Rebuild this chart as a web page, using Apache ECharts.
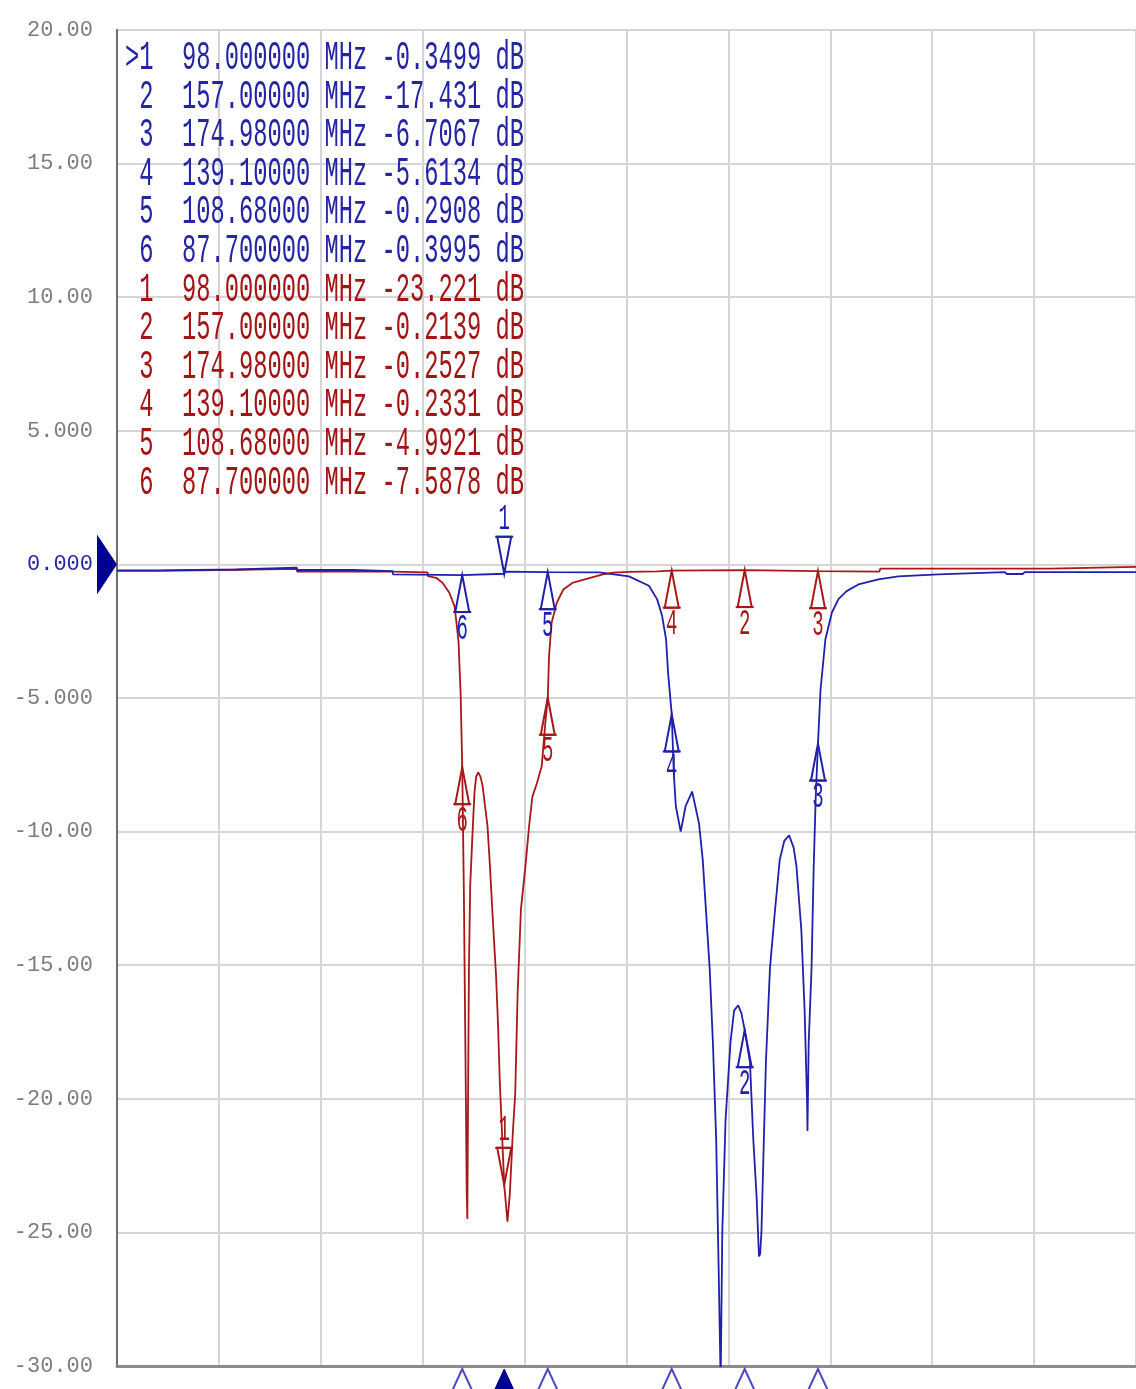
<!DOCTYPE html>
<html>
<head>
<meta charset="utf-8">
<script src="https://cdn.jsdelivr.net/npm/echarts@6/dist/echarts.min.js"></script>
<style>
html,body{margin:0;padding:0;background:#ffffff;}
#c{width:1136px;height:1389px;}
</style>
</head>
<body>
<div id="c"></div>
<script>
// ---------------- data ----------------
const xMin = 3, xMax = 253;            // MHz (start / stop)
const yMin = -30, yMax = 20, yStep = 5; // dB
const refLevel = 0;
const yTickValues = [20, 15, 10, 5, 0, -5, -10, -15, -20, -25, -30];
const yTickLabels = ['20.00', '15.00', '10.00', '5.000', '0.000', '-5.000', '-10.00', '-15.00', '-20.00', '-25.00', '-30.00'];

// Trace 1 (blue)
const s21Freq = [3, 12.8, 12.9, 32.4, 32.5, 47.1, 47.2, 60.8, 60.9, 70.6, 70.7, 87.7, 98.0, 98.3, 108.68, 121.3, 128.6, 133.5, 135.5, 136.7, 137.7, 138.2, 139.1, 139.6, 140.1, 141.3, 142.5, 144.1, 145.8, 146.7, 148.4, 149.2, 150.0, 150.6, 151.1, 151.5, 152.3, 153.5, 154.4, 155.4, 156.2, 157.0, 158.3, 159.1, 159.9, 160.5, 160.8, 161.1, 162.2, 163.2, 164.4, 165.6, 166.7, 167.9, 169.0, 169.7, 170.9, 171.7, 172.3, 172.4, 172.7, 173.4, 173.9, 174.4, 174.98, 175.6, 176.8, 178.4, 180.0, 182.0, 184.9, 189.8, 194.7, 204.5, 220.8, 221.3, 225.2, 225.7, 253];
const s21Db = [-0.22, -0.22, -0.19, -0.19, -0.12, -0.12, -0.21, -0.21, -0.25, -0.25, -0.37, -0.3995, -0.3499, -0.27, -0.2908, -0.30, -0.45, -0.8, -1.3, -1.9, -2.8, -4.05, -5.6134, -7.8, -9.05, -10.0, -9.05, -8.5, -9.7, -11.05, -15.1, -17.9, -21.5, -26.3, -30.6, -25.0, -20.8, -17.9, -16.7, -16.5, -16.8, -17.431, -18.65, -21.5, -23.6, -25.9, -25.8, -25.0, -18.65, -15.1, -13.0, -11.05, -10.35, -10.14, -10.6, -11.3, -13.7, -16.7, -20.1, -21.2, -17.9, -15.1, -11.5, -8.8, -6.7067, -4.7, -2.8, -1.8, -1.3, -1.0, -0.75, -0.56, -0.45, -0.37, -0.29, -0.36, -0.36, -0.29, -0.29];

// Trace 2 (red)
const s11Freq = [3, 12.8, 12.9, 32.4, 32.5, 47.1, 47.2, 70.6, 70.7, 79.2, 79.3, 81.3, 82.8, 84.5, 85.8, 86.3, 86.8, 87.0, 87.3, 87.7, 88.1, 88.5, 88.8, 88.95, 89.1, 89.35, 89.65, 90.15, 90.7, 91.1, 91.6, 92.2, 92.7, 93.9, 94.5, 95.3, 96.0, 96.5, 96.9, 98.0, 98.8, 99.4, 100.1, 100.7, 101.3, 102.1, 103.2, 104.1, 104.9, 106.0, 107.2, 108.1, 108.68, 109.0, 109.6, 110.9, 112.5, 114.9, 119.1, 122.2, 124.7, 128.6, 135.6, 135.8, 139.1, 157.0, 174.98, 175.3, 190.0, 190.3, 232.0, 232.3, 253];
const s11Db = [-0.24, -0.24, -0.2, -0.2, -0.17, -0.17, -0.27, -0.27, -0.3, -0.3, -0.44, -0.5, -0.68, -1.05, -1.56, -2.2, -2.9, -3.7, -4.8, -7.5878, -12.3, -18.5, -23.5, -24.5, -20.7, -15.05, -12.05, -10.3, -8.55, -7.95, -7.78, -7.95, -8.3, -9.8, -11.3, -13.55, -15.4, -17.3, -19.3, -23.221, -24.6, -23.5, -21.3, -19.8, -16.0, -12.9, -11.3, -9.8, -8.7, -8.2, -7.55, -5.9, -4.9921, -3.43, -2.2, -1.43, -0.94, -0.68, -0.5, -0.37, -0.31, -0.28, -0.26, -0.22, -0.2331, -0.2139, -0.2527, -0.27, -0.27, -0.16, -0.16, -0.09, -0.09];

// Markers
const markerNum  = [1, 2, 3, 4, 5, 6];
const markerFreq = [98.0, 157.0, 174.98, 139.1, 108.68, 87.7];
const s21MarkerDb = [-0.3499, -17.431, -6.7067, -5.6134, -0.2908, -0.3995];
const s11MarkerDb = [-23.221, -0.2139, -0.2527, -0.2331, -4.9921, -7.5878];
const activeMarker = 1;

// ---------------- styles ----------------
const BLUE = '#2020ac';
const RED = '#a81818';
const TXT_BLUE = '#2424a4';
const TXT_RED = '#a41414';
const GRID = '#d6d6d6';
const MONO = '"Liberation Mono", "DejaVu Sans Mono", monospace';

const zip = (a, b) => a.map((v, i) => [v, b[i]]);

function fmtF(f) { return f.toPrecision(8); }
function fmtV(v) { return Math.abs(v) >= 10 ? v.toFixed(3) : v.toFixed(4); }

const tableLines = [];
markerNum.forEach((n, i) => tableLines.push({
  text: (n === activeMarker ? '>' : ' ') + n + '  ' + fmtF(markerFreq[i]) + ' MHz ' + fmtV(s21MarkerDb[i]) + ' dB',
  color: TXT_BLUE
}));
markerNum.forEach((n, i) => tableLines.push({
  text: ' ' + n + '  ' + fmtF(markerFreq[i]) + ' MHz ' + fmtV(s11MarkerDb[i]) + ' dB',
  color: TXT_RED
}));

function markerRender(color) {
  return function (params, api) {
    const f = api.value(0), v = api.value(1), n = api.value(2);
    const p = api.coord([f, v]);
    const d = (n === activeMarker) ? -1 : 1;
    const H = 37, W = 7;
    const by = p[1] + d * H;
    return {
      type: 'group',
      children: [
        { type: 'polygon', shape: { points: [[p[0], p[1]], [p[0] + W, by], [p[0] - W, by]] },
          style: { fill: 'rgba(255,255,255,0)', stroke: color, lineWidth: 2 } },
        { type: 'line', shape: { x1: p[0] - 9, y1: by, x2: p[0] + 9, y2: by },
          style: { stroke: color, lineWidth: 2 } },
        { type: 'text', x: p[0], y: by + d * 17, scaleX: 1, scaleY: 1.9,
          style: { text: String(n), fill: color, font: '19px ' + MONO, align: 'center', verticalAlign: 'middle' } }
      ]
    };
  };
}

function bottomRender(params, api) {
  const f = api.value(0), n = api.value(1);
  const p = api.coord([f, yMin]);
  const top = p[1] + 3;
  const active = n === activeMarker;
  return {
    type: 'polygon',
    shape: { points: [[p[0], top], [p[0] + 12, top + 26], [p[0] - 12, top + 26]] },
    style: active ? { fill: '#000090', stroke: '#000090', lineWidth: 1 }
                  : { fill: 'rgba(255,255,255,0)', stroke: '#4a4ac4', lineWidth: 2 }
  };
}

function refRender(params, api) {
  const p = api.coord([api.value(0), api.value(1)]);
  return {
    type: 'polygon',
    shape: { points: [[p[0], p[1]], [p[0] - 20, p[1] - 30], [p[0] - 20, p[1] + 30]] },
    style: { fill: '#000090' }
  };
}

const chart = echarts.init(document.getElementById('c'), null, { renderer: 'canvas' });

const option = {
  backgroundColor: '#ffffff',
  animation: false,
  grid: { left: 117, right: -2, top: 30, bottom: 23, show: true, borderColor: '#a4a4a4', borderWidth: 2, backgroundColor: 'rgba(0,0,0,0)' },
  xAxis: [
    { type: 'value', min: xMin, max: xMax, position: 'bottom',
      axisLine: { show: true, onZero: false, lineStyle: { color: '#8c8c8c', width: 3 } },
      axisTick: { show: false }, axisLabel: { show: false }, splitLine: { show: false } },
    { type: 'value', min: 0, max: xMax - xMin, interval: 25, position: 'bottom',
      axisLine: { show: false, onZero: false }, axisTick: { show: false }, axisLabel: { show: false },
      splitLine: { show: true, lineStyle: { color: GRID, width: 2 } } }
  ],
  yAxis: {
    type: 'value', min: yMin, max: yMax, interval: yStep,
    axisLine: { show: true, onZero: false, lineStyle: { color: '#6e6e6e', width: 2 } },
    axisTick: { show: false },
    splitLine: { show: true, lineStyle: { color: GRID, width: 2 } },
    axisLabel: {
      margin: 24, color: '#7c7c7c', fontFamily: MONO, fontSize: 22,
      formatter: function (v) {
        const i = yTickValues.indexOf(v);
        const t = i >= 0 ? yTickLabels[i] : '';
        return v === refLevel ? '{z|' + t + '}' : t;
      },
      rich: { z: { color: TXT_BLUE, fontFamily: MONO, fontSize: 22 } }
    }
  },
  graphic: tableLines.map((l, i) => ({
    type: 'text', x: 125, y: 58 + 38.6 * i, scaleY: 1.75, z: 10,
    style: { text: l.text, fill: l.color, font: '23.75px ' + MONO, verticalAlign: 'middle', align: 'left' }
  })),
  series: [
    { name: 'Trc2', type: 'line', xAxisIndex: 0, data: zip(s11Freq, s11Db), showSymbol: false, symbol: 'none',
      lineStyle: { color: RED, width: 1.8 }, z: 2 },
    { name: 'Trc1', type: 'line', xAxisIndex: 0, data: zip(s21Freq, s21Db), showSymbol: false, symbol: 'none',
      lineStyle: { color: BLUE, width: 1.8 }, z: 3 },
    { name: 'Trc2 markers', type: 'custom', xAxisIndex: 0, renderItem: markerRender(RED), z: 6,
      encode: { x: 0, y: 1 }, data: markerFreq.map((f, i) => [f, s11MarkerDb[i], markerNum[i]]) },
    { name: 'Trc1 markers', type: 'custom', xAxisIndex: 0, renderItem: markerRender(BLUE), z: 7,
      encode: { x: 0, y: 1 }, data: markerFreq.map((f, i) => [f, s21MarkerDb[i], markerNum[i]]) },
    { name: 'marker ticks', type: 'custom', xAxisIndex: 0, renderItem: bottomRender, z: 8, clip: false,
      encode: { x: 0 }, data: markerFreq.map((f, i) => [f, markerNum[i]]) },
    { name: 'ref level', type: 'custom', xAxisIndex: 0, renderItem: refRender, z: 8, clip: false,
      encode: { x: 0, y: 1 }, data: [[xMin, refLevel]] }
  ]
};
chart.setOption(option);
</script>
</body>
</html>
